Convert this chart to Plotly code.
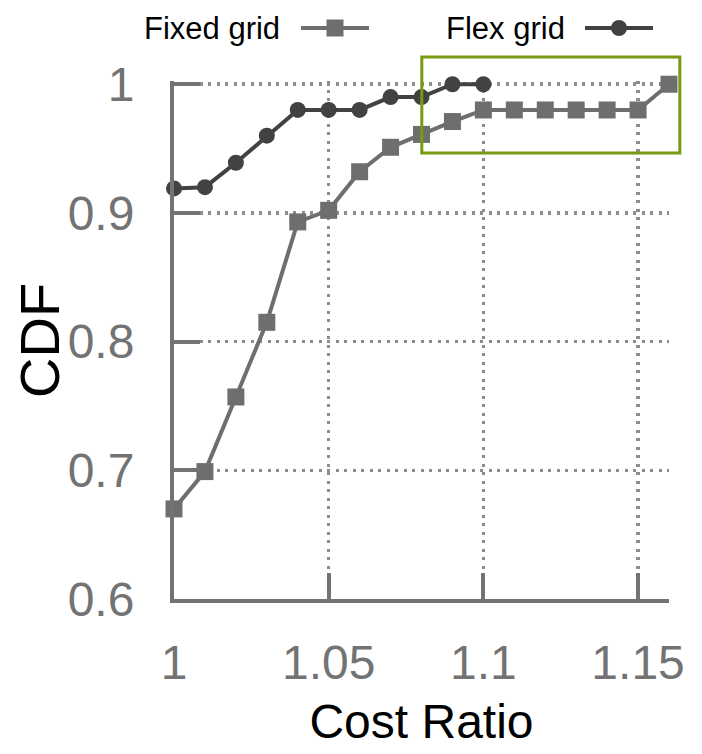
import plotly.graph_objects as go

# ---- data ----
cost_ratio_fixed = [1.00, 1.01, 1.02, 1.03, 1.04, 1.05, 1.06, 1.07, 1.08, 1.09,
                    1.10, 1.11, 1.12, 1.13, 1.14, 1.15, 1.16]
cdf_fixed = [0.670, 0.699, 0.757, 0.815, 0.893, 0.902, 0.932, 0.951, 0.961, 0.971,
             0.980, 0.980, 0.980, 0.980, 0.980, 0.980, 1.000]
cost_ratio_flex = [1.00, 1.01, 1.02, 1.03, 1.04, 1.05, 1.06, 1.07, 1.08, 1.09, 1.10]
cdf_flex = [0.919, 0.920, 0.939, 0.960, 0.980, 0.980, 0.980, 0.990, 0.990, 1.000, 1.000]
x_ticks = [1.0, 1.05, 1.1, 1.15]
x_tick_labels = ["1", "1.05", "1.1", "1.15"]
y_ticks = [0.6, 0.7, 0.8, 0.9, 1.0]
y_tick_labels = ["0.6", "0.7", "0.8", "0.9", "1"]
highlight_x = [1.0801, 1.1635]
highlight_y = [0.9465, 1.0212]

FONT = "Liberation Sans, Arial, Helvetica, sans-serif"
FIXED_COLOR = "#6e6e6e"
FLEX_COLOR = "#424242"
AXIS_COLOR = "#737373"
GRID_COLOR = "#8c8c8c"
BOX_COLOR = "#789a10"

W, H = 702, 754
L, R, T, B = 174, 33, 81, 155
x_range = [1.0, 1.16]
y_range = [0.6, 1.0025]
plot_w = W - L - R
plot_h = H - T - B


def px_to_paper_x(px):
    return (px - L) / plot_w


def px_to_paper_y(py):
    return (H - B - py) / plot_h


def data_to_paper_x(v):
    return (v - x_range[0]) / (x_range[1] - x_range[0])


def data_to_paper_y(v):
    return (v - y_range[0]) / (y_range[1] - y_range[0])


fig = go.Figure()
fig.add_trace(go.Scatter(
    x=cost_ratio_fixed, y=cdf_fixed, mode="lines+markers", name="Fixed grid",
    line=dict(color=FIXED_COLOR, width=4),
    marker=dict(symbol="square", size=17, color=FIXED_COLOR),
    cliponaxis=False, showlegend=False))
fig.add_trace(go.Scatter(
    x=cost_ratio_flex, y=cdf_flex, mode="lines+markers", name="Flex grid",
    line=dict(color=FLEX_COLOR, width=4),
    marker=dict(symbol="circle", size=16, color=FLEX_COLOR),
    cliponaxis=False, showlegend=False))

# highlight box
fig.add_shape(type="rect", xref="paper", yref="paper",
              x0=data_to_paper_x(highlight_x[0]), x1=data_to_paper_x(highlight_x[1]),
              y0=data_to_paper_y(highlight_y[0]), y1=data_to_paper_y(highlight_y[1]),
              line=dict(color=BOX_COLOR, width=3), fillcolor="rgba(0,0,0,0)")

# custom legend (text left of symbol)
legend_items = [
    ("Fixed grid", 282, 301, 369, "square", FIXED_COLOR, 8.5),
    ("Flex grid", 567, 585, 653, "circle", FLEX_COLOR, 8),
]
ly = 28
for label, text_right, lx0, lx1, sym, col, s in legend_items:
    fig.add_annotation(text=label, xref="paper", yref="paper",
                       x=px_to_paper_x(text_right), y=px_to_paper_y(ly),
                       xanchor="right", yanchor="middle", showarrow=False,
                       font=dict(family=FONT, size=31, color="black"))
    fig.add_shape(type="line", xref="paper", yref="paper",
                  x0=px_to_paper_x(lx0), x1=px_to_paper_x(lx1),
                  y0=px_to_paper_y(ly), y1=px_to_paper_y(ly),
                  line=dict(color=col, width=4))
    cx = (lx0 + lx1) / 2
    fig.add_shape(type=("rect" if sym == "square" else "circle"), xref="paper", yref="paper",
                  x0=px_to_paper_x(cx - s), x1=px_to_paper_x(cx + s),
                  y0=px_to_paper_y(ly + s), y1=px_to_paper_y(ly - s),
                  line=dict(width=0), fillcolor=col)

# y-axis title as rotated annotation for exact placement
fig.add_annotation(text="CDF", xref="paper", yref="paper",
                   x=px_to_paper_x(39), y=px_to_paper_y(341),
                   xanchor="center", yanchor="middle", textangle=-90, showarrow=False,
                   font=dict(family=FONT, size=56, color="black"))

fig.update_layout(
    template="none",
    width=W, height=H,
    margin=dict(l=L, r=R, t=T, b=B, pad=0),
    paper_bgcolor="white", plot_bgcolor="white",
    font=dict(family=FONT),
    showlegend=False,
    hovermode=False,
)
fig.update_xaxes(
    range=x_range, tickvals=x_ticks, ticktext=x_tick_labels, automargin=False,
    showline=True, linecolor=AXIS_COLOR, linewidth=4,
    ticks="inside", ticklen=26, tickwidth=4, tickcolor=AXIS_COLOR,
    showgrid=True, gridcolor=GRID_COLOR, gridwidth=3.5, griddash="3px,5.5px",
    zeroline=False, ticklabelstandoff=18,
    tickfont=dict(family=FONT, size=48, color=AXIS_COLOR),
    title=dict(text="Cost Ratio", font=dict(family=FONT, size=48, color="black"), standoff=18),
)
fig.update_yaxes(
    range=y_range, tickvals=y_ticks, ticktext=y_tick_labels, automargin=False,
    showline=True, linecolor=AXIS_COLOR, linewidth=4,
    ticks="inside", ticklen=26, tickwidth=4, tickcolor=AXIS_COLOR,
    showgrid=True, gridcolor=GRID_COLOR, gridwidth=3.5, griddash="3px,5.5px",
    zeroline=False, ticklabelstandoff=26,
    tickfont=dict(family=FONT, size=48, color=AXIS_COLOR),
)

fig.write_html("out.html",
               config={"displayModeBar": False, "staticPlot": True},
               post_script="document.body.style.margin='0';document.body.style.padding='0';")
